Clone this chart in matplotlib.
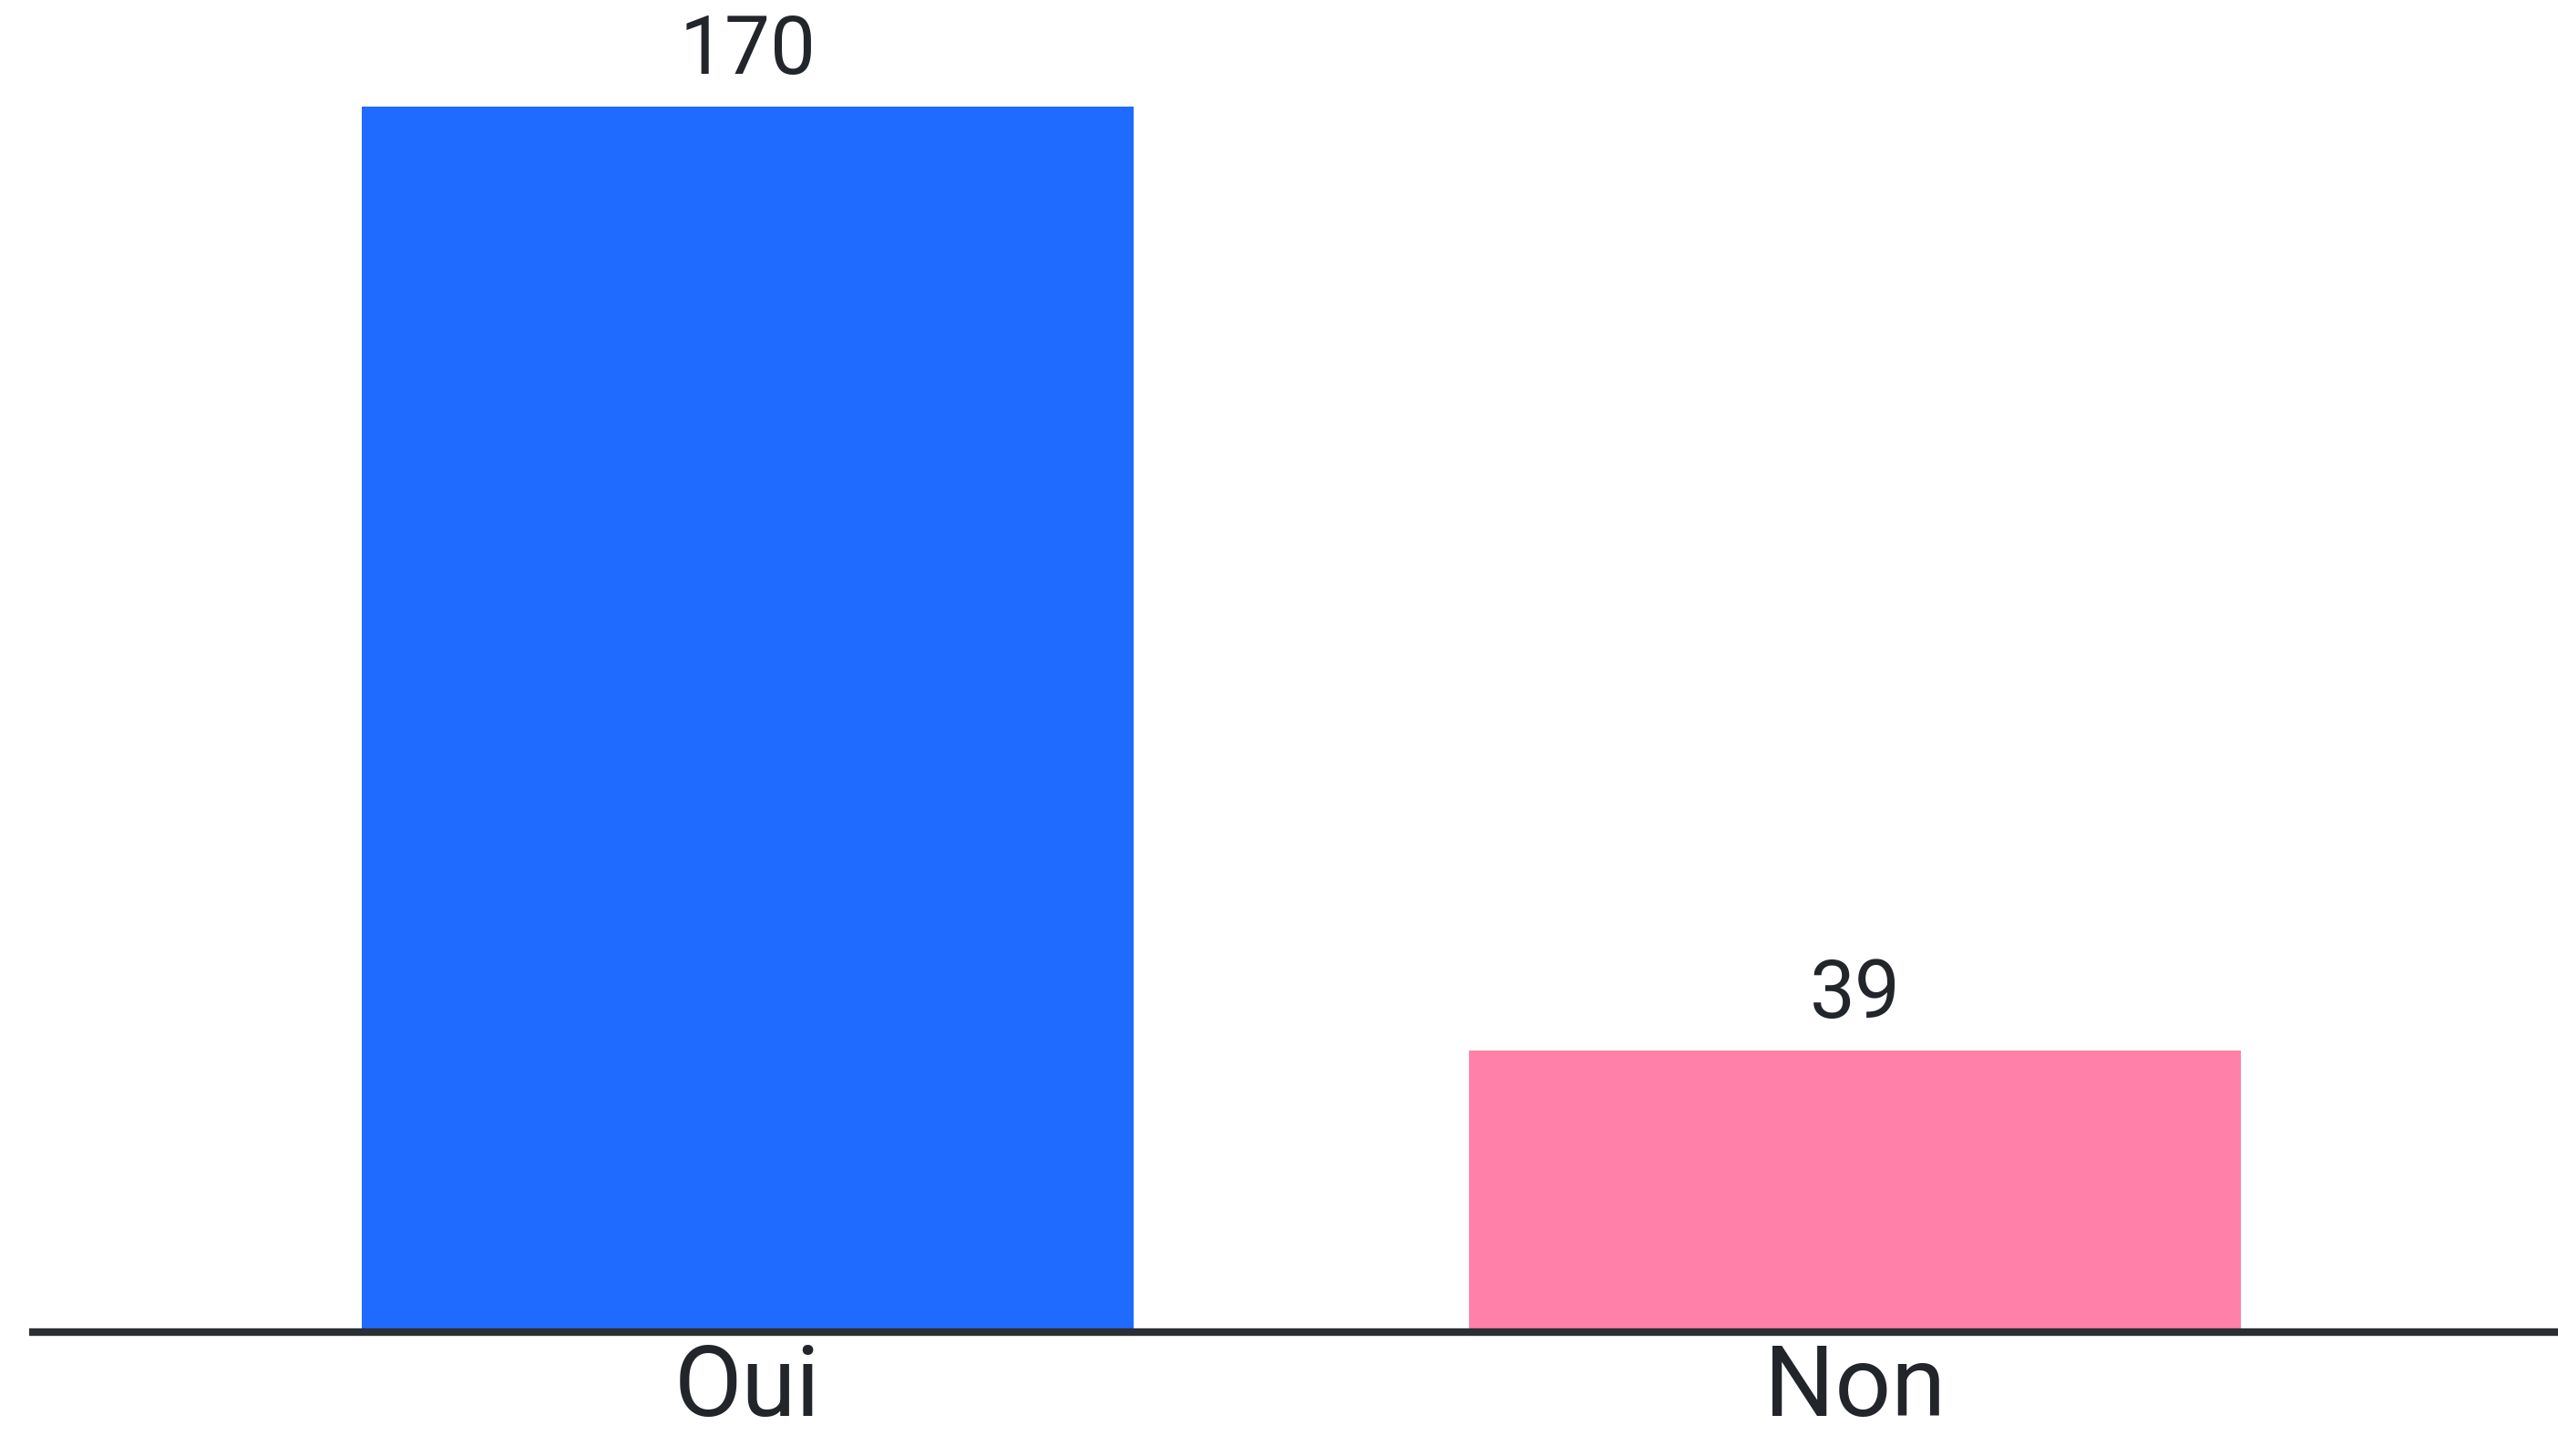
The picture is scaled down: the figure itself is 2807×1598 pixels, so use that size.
import matplotlib.pyplot as plt

categories = ["Oui", "Non"]
values = [170, 39]
colors = ["#1F6BFF", "#FF80A8"]

plt.rcParams['font.family'] = ['Roboto', 'DejaVu Sans']

fig = plt.figure(figsize=(28.07, 15.98), dpi=100)
ax = fig.add_axes([0.0114, 0.0851, 0.9886, 0.9149])

x = list(range(len(categories)))
bars = ax.bar(x, values, width=0.697, color=colors, zorder=1)

for b, v in zip(bars, values):
    ax.annotate(str(v), (b.get_x() + b.get_width() / 2, v),
                xytext=(0, 13), textcoords="offset points",
                ha="center", va="bottom", fontsize=64, color="#22262B")

ax.set_xlim(-0.649, 1.635)
ax.set_ylim(0, 184.8)
ax.set_xticks(x)
ax.set_xticklabels(categories, fontsize=78, color="#22262B")
ax.tick_params(axis="x", length=0, pad=8)
ax.set_yticks([])

for s in ["top", "right", "left"]:
    ax.spines[s].set_visible(False)
ax.spines["bottom"].set_color("#2B2F33")
ax.spines["bottom"].set_linewidth(6)
ax.spines["bottom"].set_capstyle("butt")
ax.spines["bottom"].set_zorder(3)

fig.savefig("out.png", dpi=100)
